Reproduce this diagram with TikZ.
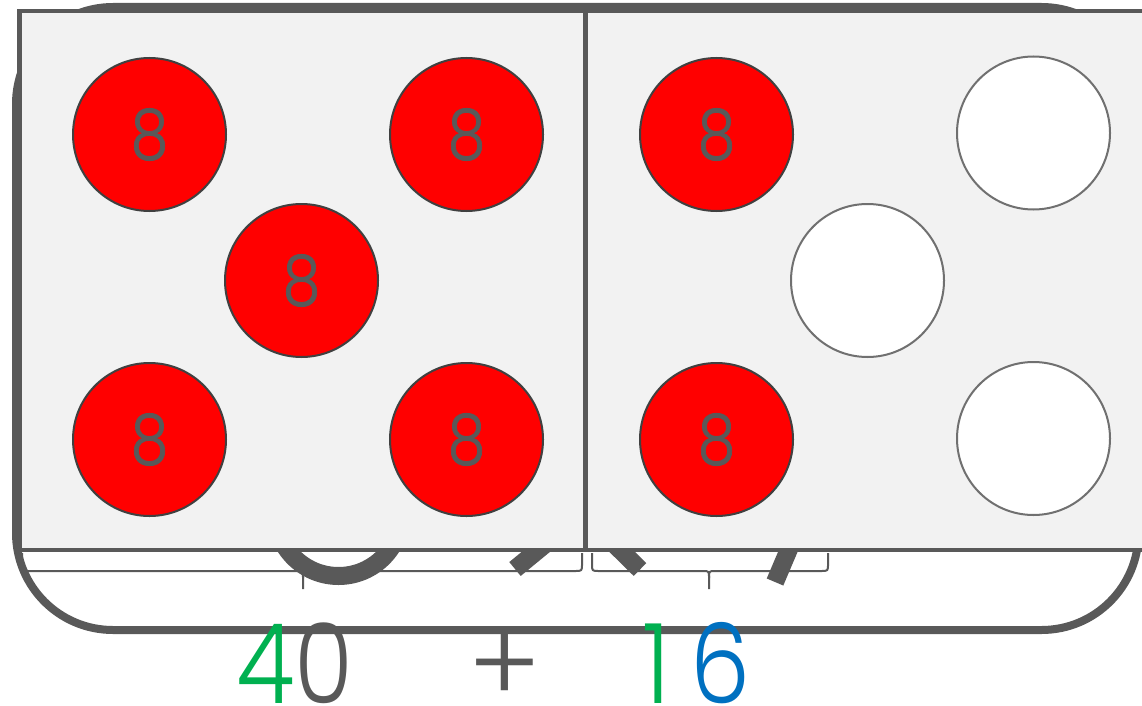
\documentclass[tikz,border=0pt]{standalone}
\usepackage{fontspec}
\setmainfont{Poppins}[UprightFont={* Light}]
\newfontfamily\eightfont{Poppins}[UprightFont={* Light}, FakeBold=1.2]
\definecolor{dg}{HTML}{595959}
\definecolor{cb}{HTML}{404040}
\definecolor{wb}{HTML}{707070}
\definecolor{panelc}{HTML}{F2F2F2}
\definecolor{rd}{HTML}{FF0000}
\definecolor{gn}{HTML}{00B050}
\definecolor{bl}{HTML}{0070C0}
\newcommand{\eightlbl}{\scalebox{0.86}[1]{8}}
\tikzset{
  redc/.style={circle, draw=cb, line width=2pt, fill=rd, minimum size=153pt, inner sep=0pt, text=dg, font=\eightfont\fontsize{70}{70}\selectfont},
  whitec/.style={circle, draw=wb, line width=2pt, fill=white, minimum size=153pt, inner sep=0pt},
  panelbox/.style={draw=dg, line width=4.5pt, fill=panelc},
  hidden/.style={draw=dg, line width=18pt},
  bracel/.style={draw=dg, line width=2pt},
  big/.style={font=\fontsize{111}{111}\selectfont, anchor=base, inner sep=0pt}
}
\begin{document}
\begin{tikzpicture}[x=1pt,y=-1pt]
\useasboundingbox (0,0) rectangle (1142,706);
% background rounded frame
\draw[dg, line width=8pt, fill=white, rounded corners=97pt] (16,7) rectangle (1138.5,630);
% hidden pieces of large shapes behind the panels
\draw[hidden] (338.5,513) circle[radius=63pt];
\draw[hidden] (560,532) -- (515,569);
\draw[hidden] (605,535) -- (640,569.5);
\draw[hidden] (795,535) -- (775,582);
% braces
\draw[bracel] (22,553) -- (22,564) .. controls (22,571) .. (29,571) -- (297,571) .. controls (303,571) .. (303,578) -- (303,589);
\draw[bracel] (303,578) .. controls (303,571) .. (309,571) -- (575,571) .. controls (582,571) .. (582,564) -- (582,553);
\draw[bracel] (592,553) -- (592,564) .. controls (592,571) .. (599,571) -- (703,571) .. controls (709,571) .. (709,578) -- (709,589);
\draw[bracel] (709,578) .. controls (709,571) .. (715,571) -- (821,571) .. controls (828,571) .. (828,564) -- (828,553);
% panels
\path[panelbox] (19.5,11) rectangle (585.5,550);
\path[panelbox] (585.5,11) rectangle (1150,550);
% circles
\node[redc] (r1) at (149.5,134.5) {\eightlbl};
\node[redc] (r2) at (466.5,134.5) {\eightlbl};
\node[redc] (r3) at (301.5,280.5) {\eightlbl};
\node[redc] (r4) at (149.5,439.5) {\eightlbl};
\node[redc] (r5) at (466.5,439.5) {\eightlbl};
\node[redc] (r6) at (716.5,134.5) {\eightlbl};
\node[redc] (r7) at (716.5,439.5) {\eightlbl};
\node[whitec] (w1) at (1033.5,133) {};
\node[whitec] (w2) at (867.5,280.5) {};
\node[whitec] (w3) at (1033.5,438.5) {};
% bottom numbers
\node[big, text=gn] (four) at (265.5,703) {\scalebox{0.86}[1]{4}};
\node[big, text=dg] (zero) at (324,703) {\scalebox{0.86}[1]{0}};
\node[big, text=dg] (plus) at (505,703) {+};
\node[big, text=gn] (one) at (656,703) {\scalebox{0.86}[1]{1}};
\node[big, text=bl] (six) at (721,703) {\scalebox{0.86}[1]{6}};
\end{tikzpicture}
\end{document}
